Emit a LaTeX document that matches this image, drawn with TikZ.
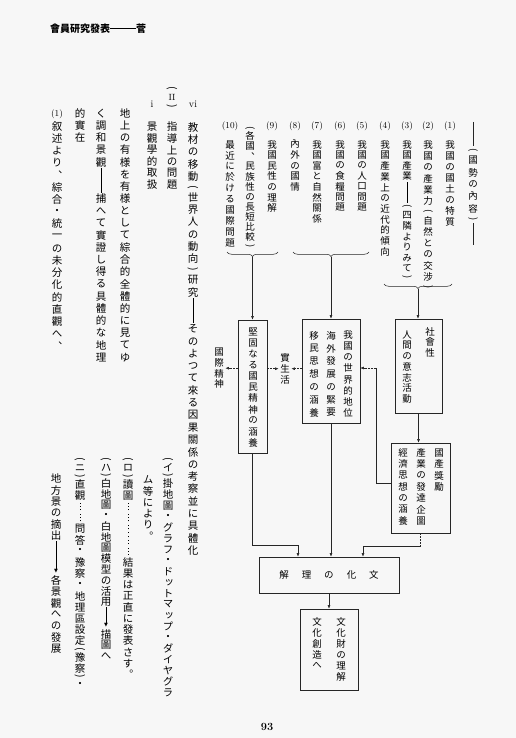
\documentclass[tikz,border=0pt]{standalone}
\usepackage{fontspec}
\usepackage{graphicx}
\usetikzlibrary{arrows.meta,decorations.pathreplacing}
\newfontfamily\jp[RawFeature=+vert]{Noto Sans CJK JP}
\newfontfamily\dejavu{DejaVu Sans}
\makeatletter
\newdimen\VTs \newdimen\VTcur
\def\VTbr{0.7}
\newcommand\VT[2]{\vbox{\offinterlineskip\VTs=#1\relax
  \@tfor\VTc:=#2\do{\global\VTcur=\VTs
    \setbox0=\hbox{\VTc}%
    \hbox to 1.3em{\hss\vbox to \VTcur{\vss\box0\vss}\hss}}}}
\makeatother
\newcommand\vLP{\global\VTcur=\VTbr\VTs\rotatebox{-90}{(}}
\newcommand\vRP{\global\VTcur=\VTbr\VTs\rotatebox{-90}{)}}
\newcommand\vDS{\rule{0.5pt}{\VTs}}
\newcommand\vDT{\vbox to \VTs{\cleaders\vbox to 3.2pt{\vss\hbox{\rule{0.9pt}{0.9pt}}\vss}\vfill}}
\newcommand\vAR{\vbox to \VTs{\offinterlineskip\hbox to 0pt{\hss\rule{0.5pt}{0.5\VTs}\hss}\hbox to 0pt{\hss\dejavu\fontsize{5}{5}\selectfont ▼\hss}\vss}}
\tikzset{
  dcol/.style={anchor=north, inner sep=0pt, font=\jp\fontsize{9.5}{10}\selectfont},
  mcol/.style={anchor=north, inner sep=0pt, font=\jp\fontsize{10.5}{11}\selectfont},
  lab/.style={inner sep=0pt, font=\fontsize{9}{9}\selectfont},
  bx/.style={draw=black!85, line width=0.6pt, inner sep=0pt},
  ln/.style={draw=black!85, line width=0.5pt},
  arr/.style={ln, -{Latex[length=3.5pt,width=2.8pt]}},
  darr/.style={arr, dash pattern=on 1.8pt off 1.2pt},
  brc/.style={ln, decorate, decoration={brace, amplitude=4.5pt}},
}
\begin{document}
\begin{tikzpicture}[x=1pt,y=-1pt]
\fill[black!3] (0,0) rectangle (516,738);
\useasboundingbox (0,0) rectangle (516,738);

% header and page number
\node[font=\jp\bfseries\fontsize{10}{10}\selectfont, inner sep=0pt] (hd) at (98,29) {會員研究發表\rule[0.36em]{26pt}{0.7pt}菅};
\node[font=\bfseries\fontsize{11}{11}\selectfont, inner sep=0pt] (pg) at (267,727) {93};

% right header column
\node[dcol] (H) at (473,146) {\VT{12pt}{\vLP 國勢の內容\vRP}};
\draw[ln] (473,122) -- (H.north);
\draw[ln] (H.south) -- (473,245);

% numbered labels
\node[lab] (n1) at (450,126) {(1)};
\node[lab] (n2) at (428,126) {(2)};
\node[lab] (n3) at (407,126) {(3)};
\node[lab] (n4) at (385,126) {(4)};
\node[lab] (n5) at (362,126) {(5)};
\node[lab] (n6) at (340,126) {(6)};
\node[lab] (n7) at (317,126) {(7)};
\node[lab] (n8) at (295,126) {(8)};
\node[lab] (n9) at (272,126) {(9)};
\node[lab] (n10) at (230,126) {(10)};

% numbered columns
\node[dcol] (c1) at (450,139) {\VT{11pt}{我國の國土の特質}};
\node[dcol] (c2) at (428,139) {\VT{11.3pt}{我國の產業力\vLP 自然との交涉\vRP}};
\node[dcol] (c3) at (407,139) {\VT{10.6pt}{我國產業\vDS\vDS\vLP 四隣よりみて\vRP}};
\node[dcol] (c4) at (385,139) {\VT{10.7pt}{我國產業上の近代的傾向}};
\node[dcol] (c5) at (362,139) {\VT{10.5pt}{我國の人口問題}};
\node[dcol] (c6) at (340,139) {\VT{10.5pt}{我國の食糧問題}};
\node[dcol] (c7) at (317,139) {\VT{10.6pt}{我國富と自然關係}};
\node[dcol] (c8) at (295,139) {\VT{10.6pt}{內外の國情}};
\node[dcol] (c9) at (272,139) {\VT{10.6pt}{我國民性の理解}};
\node[dcol] (c9b) at (250,124) {\VT{10.1pt}{\vLP 各國︑民族性の長短比較\vRP}};
\node[dcol] (c10) at (230,139) {\VT{10.9pt}{最近に於ける國際問題}};

% braces
\draw[brc] (452,284) -- (384,284);
\coordinate (tA) at (418,288.5);
\draw[brc] (369,252) -- (293,252);
\coordinate (tB) at (331,256.5);
\draw[brc] (278,252) -- (227,252);
\coordinate (tC) at (252.5,256.5);

% boxes
\node[bx, minimum width=47pt, minimum height=94pt] (R1) at (418.5,366) {};
\node[bx, minimum width=58pt, minimum height=104pt] (M) at (331,371) {};
\node[bx, minimum width=29pt, minimum height=133pt] (L) at (252.5,386.5) {};
\node[bx, minimum width=59pt, minimum height=90pt] (R2) at (420.5,488) {};
\node[bx, minimum width=140pt, minimum height=36pt] (C) at (329,575) {};
\node[bx, minimum width=58pt, minimum height=81pt] (D) at (329,649.5) {};

% box texts
\node[dcol] (r1a) at (430,326) {\VT{10.7pt}{社會性}};
\node[dcol] (r1b) at (407,329) {\VT{10.7pt}{人間の意志活動}};
\node[dcol] (m1) at (348,329) {\VT{11.2pt}{我國の世界的地位}};
\node[dcol] (m2) at (331,329) {\VT{12.8pt}{海外發展の緊要}};
\node[dcol] (m3) at (314,329) {\VT{12.8pt}{移民思想の涵養}};
\node[dcol] (l1) at (253,326) {\VT{11.1pt}{堅固なる國民精神の涵養}};
\node[dcol] (S) at (285,352) {\VT{11pt}{實生活}};
\node[dcol] (G) at (219,347) {\VT{10.5pt}{國際精神}};
\node[dcol] (r2a) at (439,447) {\VT{11.3pt}{國產獎勵}};
\node[dcol] (r2b) at (421,447) {\VT{11.3pt}{產業の發達企圖}};
\node[dcol] (r2c) at (403,447) {\VT{11.3pt}{經濟思想の涵養}};
\node[font=\jp\fontsize{9.5}{10}\selectfont, inner sep=0pt] (ct) at (C) {解\hspace{13pt}理\hspace{13pt}の\hspace{13pt}化\hspace{13pt}文};
\node[dcol] (d1) at (341,616) {\VT{11pt}{文化財の理解}};
\node[dcol] (d2) at (317,616) {\VT{11pt}{文化創造へ}};

% connectors
\draw[arr] (tA) -- (tA |- R1.north);
\draw[arr] (tB) -- (tB |- M.north);
\draw[arr] (tC) -- (tC |- L.north);
\draw[arr] (R1.south) -- (R1.south |- R2.north);
\coordinate (j1) at (376,483);
\coordinate (j2) at (376,368);
\draw[ln] (R2.west |- j1) -- (j1) -- (j2);
\draw[darr] (j2) -- (j2 -| M.east);
\coordinate (k1) at (363,546);
\draw[ln, dash pattern=on 1.8pt off 1.2pt] (R2.south) -- (R2.south |- k1);
\draw[arr] (R2.south |- k1) -- (k1) -- (k1 |- C.north);
\draw[arr] (M.south) -- (M.south |- C.north);
\coordinate (k2) at (298,545);
\draw[arr] (L.south) |- (k2) -- (k2 |- C.north);
\draw[arr] (C.south) -- (D.north);
\draw[darr] (L.east |- S.west) -- (S.west);
\draw[darr] (M.west |- S.east) -- (S.east);
\draw[darr] (L.west |- G.east) -- (G.east);

% left text
\node[lab, font=\fontsize{10}{10}\selectfont] (vi) at (193,104) {vi};
\node[mcol] (tvi) at (193,121) {\VT{12.3pt}{教材の移動\vLP 世界人の動向\vRP 研究\vDS\vDS そのよつて來る因果關係の考察並に具體化}};
\node[mcol] (II) at (172,84) {\VT{11pt}{\vLP{\rmfamily\fontsize{9}{9}\selectfont II}\vRP}};
\node[mcol] (tII) at (172,121) {\VT{11.5pt}{指導上の問題}};
\node[lab, font=\fontsize{10}{10}\selectfont] (i) at (152,104) {i};
\node[mcol] (ti) at (152,121) {\VT{11.5pt}{景觀學的取扱}};
\node[mcol] (p1) at (125,107) {\VT{12.2pt}{地上の有様を有様として綜合的全體的に見てゆ}};
\node[mcol] (p2) at (101,107) {\VT{12.2pt}{く調和景觀\vDS\vDS 捕へて實證し得る具體的な地理}};
\node[mcol] (p3) at (80,107) {\VT{12.2pt}{的實在}};
\node[lab] (q1) at (57,114) {(1)};
\node[mcol] (p4) at (57,120) {\VT{12.2pt}{叙述より︑綜合・統一の未分化的直觀へ︑}};

% sub items
\node[mcol] (sa) at (168,457) {\def\VTbr{0.45}\VT{11pt}{\vLP イ\vRP 掛地圖・グラフ・ドットマップ・ダイヤグラ}};
\node[mcol] (sa2) at (148,474) {\VT{11.3pt}{ム等により︒}};
\node[mcol] (sb) at (128,457) {\def\VTbr{0.45}\VT{11.2pt}{\vLP ロ\vRP 讀圖\vDT\vDT\vDT\vDT\vDT 結果は正直に發表さす︒}};
\node[mcol] (sc) at (106,457) {\def\VTbr{0.45}\VT{10.8pt}{\vLP ハ\vRP 白地圖・白地圖模型の活用\vDS\vAR 描圖へ}};
\node[mcol] (sd) at (80,457) {\def\VTbr{0.45}\VT{11.2pt}{\vLP ニ\vRP 直觀\vDT\vDT 問答・豫察・地理區設定\vLP 豫察\vRP ・}};
\node[mcol] (se) at (56,473) {\VT{11.3pt}{地方景の摘出\vDS\vDS\vAR 各景觀への發展}};
\end{tikzpicture}
\end{document}
